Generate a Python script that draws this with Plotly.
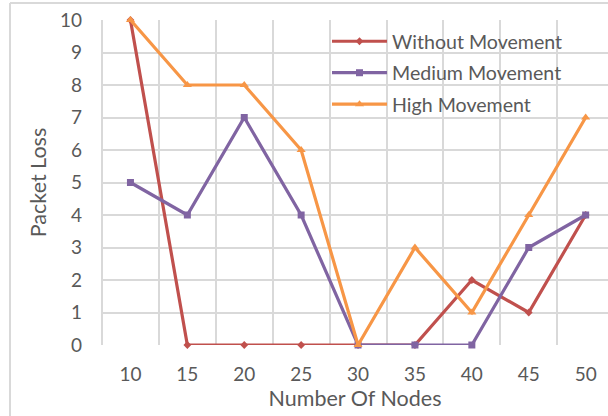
import plotly.graph_objects as go

# Packet loss per node count for three mobility scenarios
nodes = [10, 15, 20, 25, 30, 35, 40, 45, 50]
without_movement = [10, 0, 0, 0, 0, 0, 2, 1, 4]
medium_movement = [5, 4, 7, 4, 0, 0, 0, 3, 4]
high_movement = [10, 8, 8, 6, 0, 3, 1, 4, 7]
y_ticks = list(range(0, 11))

FONT = "Lato"
TEXT = "#595959"
GRID = "#d9d9d9"

series = [
    ("Without Movement", without_movement, "#c0504d", "diamond", 6),
    ("Medium Movement", medium_movement, "#8064a2", "square", 7),
    ("High Movement", high_movement, "#f79646", "triangle-up", 8),
]

fig = go.Figure()
for i, (name, vals, color, symbol, size) in enumerate(series):
    fig.add_trace(go.Scatter(
        x=nodes, y=vals, name=name, mode="lines+markers",
        line=dict(color=color, width=3.2),
        marker=dict(color=color, symbol=symbol, size=size),
        legendgroup=f"g{i}", cliponaxis=False,
    ))

W, H = 608, 416
L, R, T, B = 102, 0, 20, 71
plot_w = W - L - R
plot_h = H - T - B
step_px = 56.9  # pixel width of one category slot
x_lo = 7.5
x_hi = x_lo + plot_w / step_px * 5

fig.update_layout(
    width=W, height=H,
    margin=dict(l=L, r=R, t=T, b=B, autoexpand=False),
    paper_bgcolor="white", plot_bgcolor="white",
    font=dict(family=FONT, color=TEXT, size=19),
    showlegend=True,
    legend=dict(
        x=(327 - L) / plot_w, y=1 - (22 - T) / plot_h,
        xanchor="left", yanchor="top",
        bgcolor="rgba(0,0,0,0)", font=dict(size=19.6, color=TEXT),
        traceorder="grouped", tracegroupgap=3,
        itemwidth=55,
    ),
    xaxis=dict(
        range=[x_lo, x_hi], tickmode="array", tickvals=nodes,
        ticktext=[str(n) for n in nodes],
        showgrid=False, zeroline=False, showline=False, ticks="",
        ticklabelstandoff=16,
        tickfont=dict(size=19, color=TEXT),
        minor=dict(tick0=7.5, dtick=5, showgrid=True, gridcolor=GRID, gridwidth=2, ticks=""),
        title=dict(text="Number Of Nodes", font=dict(size=21.5, color=TEXT), standoff=6),
        automargin=False,
    ),
    yaxis=dict(
        range=[0, 10], tickmode="array", tickvals=y_ticks,
        showgrid=True, gridcolor=GRID, gridwidth=2,
        zeroline=False, showline=False, ticks="",
        ticklabelstandoff=19,
        tickfont=dict(size=19, color=TEXT),
        title=dict(text="Packet Loss", font=dict(size=21.5, color=TEXT), standoff=7),
        automargin=False,
    ),
)

# chart frame along the left and top edges
bx = (10 - L) / plot_w
by = 1 + (T - 3) / plot_h
fig.add_shape(type="line", xref="paper", yref="paper", x0=bx, x1=bx, y0=by, y1=-0.5,
              line=dict(color=GRID, width=2), layer="below")
fig.add_shape(type="line", xref="paper", yref="paper", x0=bx, x1=1.2, y0=by, y1=by,
              line=dict(color=GRID, width=2), layer="below")
# leftmost category boundary
fig.add_shape(type="line", xref="paper", yref="paper", x0=0, x1=0, y0=0, y1=1,
              line=dict(color=GRID, width=2), layer="below")

fig.write_html("out.html")
